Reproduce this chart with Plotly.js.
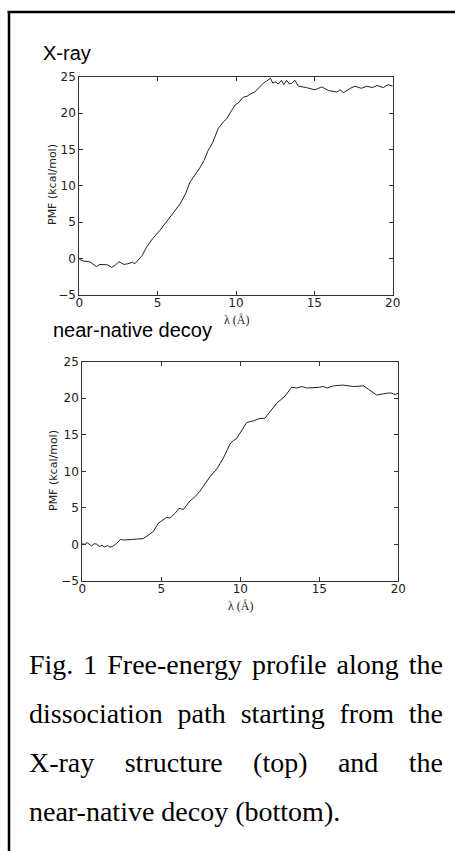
<!DOCTYPE html>
<html>
<head>
<meta charset="utf-8">
<script src="https://cdn.plot.ly/plotly-3.0.1.min.js"></script>
<style>
  html, body { margin: 0; padding: 0; background: #fff; }
  #wrap { position: relative; width: 455px; height: 851px; overflow: hidden; }
  #chart { position: absolute; left: 0; top: 0; width: 455px; height: 851px; }
  .cap { position: absolute; left: 29px; width: 414px; font-family: "Liberation Serif", "Times New Roman", serif;
         font-size: 28px; line-height: 30px; color: #000; white-space: nowrap; }
  .just { text-align: justify; text-align-last: justify; white-space: normal; }
</style>
</head>
<body>
<div id="wrap">
  <div id="chart"></div>
  <div class="cap just" style="top:650px">Fig. 1 Free-energy profile along the</div>
  <div class="cap just" style="top:699px">dissociation path starting from the</div>
  <div class="cap just" style="top:748px">X-ray structure (top) and the</div>
  <div class="cap" style="top:797px">near-native decoy (bottom).</div>
</div>
<script>
// ---- Data ----
const xrayLambda = [0, 0.3, 0.68, 0.9, 1.1, 1.3, 1.5, 1.8, 2.07, 2.3, 2.53, 2.7, 2.85, 3.1, 3.4, 3.55, 3.83, 4.0, 4.3, 4.7, 5.15, 5.6, 6.0, 6.43, 6.8, 7.06, 7.4, 7.7, 7.96, 8.23, 8.5, 8.87, 9.19, 9.4, 9.62, 9.94, 10.15, 10.47, 10.7, 10.9, 11.2, 11.42, 11.74, 11.95, 12.2, 12.35, 12.5, 12.7, 12.9, 13.05, 13.23, 13.4, 13.56, 13.76, 13.98, 14.5, 15.04, 15.47, 15.9, 16.43, 16.64, 16.86, 17.29, 17.6, 18.0, 18.35, 18.7, 19.0, 19.4, 19.7, 20];
const xrayPMF = [-0.1, -0.35, -0.45, -0.8, -1.1, -0.8, -0.8, -0.85, -1.2, -0.9, -0.4, -0.6, -0.8, -0.7, -0.5, -0.7, -0.1, 0.4, 1.6, 2.8, 3.9, 5.1, 6.3, 7.5, 9.0, 10.5, 11.5, 12.5, 13.5, 14.9, 15.9, 17.9, 18.8, 19.2, 20.0, 21.1, 21.4, 22.2, 22.3, 22.6, 22.9, 23.4, 24.1, 24.4, 24.8, 24.1, 24.3, 24.0, 24.5, 23.9, 24.5, 24.0, 24.1, 24.5, 23.7, 23.5, 23.2, 23.6, 23.1, 22.9, 23.2, 22.8, 23.4, 23.7, 23.4, 23.7, 23.5, 23.8, 23.5, 23.9, 23.7];

const decoyLambda = [0, 0.15, 0.3, 0.45, 0.59, 0.75, 0.9, 1.1, 1.25, 1.4, 1.6, 1.75, 1.9, 2.15, 2.43, 2.6, 2.8, 3.0, 3.25, 3.5, 3.85, 4.2, 4.5, 4.81, 5.1, 5.34, 5.55, 5.87, 6.12, 6.4, 6.82, 7.12, 7.45, 7.77, 8.08, 8.5, 8.92, 9.35, 9.55, 9.77, 10.1, 10.4, 10.6, 10.82, 11.25, 11.56, 11.88, 12.3, 12.83, 13.25, 13.56, 13.9, 14.2, 14.7, 15.0, 15.25, 15.5, 15.9, 16.5, 17.16, 17.5, 17.8, 18.0, 18.31, 18.63, 19.05, 19.3, 19.6, 19.8, 20];
const decoyPMF = [0.15, 0.0, 0.25, 0.05, -0.2, 0.1, 0.05, -0.3, -0.1, -0.35, -0.15, -0.35, -0.3, 0.1, 0.7, 0.6, 0.6, 0.65, 0.7, 0.75, 0.8, 1.3, 1.8, 2.9, 3.3, 3.7, 3.6, 4.26, 4.94, 4.8, 5.97, 6.5, 7.3, 8.27, 9.27, 10.28, 11.78, 13.74, 14.2, 14.5, 15.6, 16.66, 16.8, 16.9, 17.25, 17.25, 18.16, 19.3, 20.3, 21.5, 21.4, 21.6, 21.4, 21.4, 21.5, 21.6, 21.4, 21.7, 21.8, 21.6, 21.6, 21.7, 21.4, 20.9, 20.44, 20.6, 20.7, 20.7, 20.5, 20.7];

const xTicks = [0, 5, 10, 15, 20];
const yTicks = [-5, 0, 5, 10, 15, 20, 25];
const panelTitles = ["X-ray", "near-native decoy"];
const xTitle = "λ (Å)";
const yTitle = "PMF (kcal/mol)";

// ---- Layout helpers ----
const W = 455, H = 851;
const px = v => v / W;
const py = v => 1 - v / H;

const tickFont = {family: "DejaVu Sans, sans-serif", size: 12, color: "#222"};
function xax(domain, anchor) {
  return {domain: domain, anchor: anchor, range: [0, 20], tickvals: xTicks, ticktext: xTicks.map(String),
    ticks: "inside", ticklen: 4, tickcolor: "#333", mirror: "ticks", showline: true, linecolor: "#333",
    linewidth: 1, showgrid: false, zeroline: false, tickfont: tickFont, fixedrange: true, ticklabelstandoff: -3};
}
function yax(domain, anchor) {
  return {domain: domain, anchor: anchor, range: [-5, 25], tickvals: yTicks,
    ticktext: yTicks.map(v => v < 0 ? "\u2212" + Math.abs(v) : String(v)),
    ticks: "inside", ticklen: 4, tickcolor: "#333", mirror: "ticks", showline: true, linecolor: "#333",
    linewidth: 1, showgrid: false, zeroline: false, tickfont: tickFont, fixedrange: true};
}

const traces = [
  {x: xrayLambda, y: xrayPMF, type: "scatter", mode: "lines", line: {color: "#222", width: 1}, xaxis: "x", yaxis: "y", hoverinfo: "skip"},
  {x: decoyLambda, y: decoyPMF, type: "scatter", mode: "lines", line: {color: "#222", width: 1}, xaxis: "x2", yaxis: "y2", hoverinfo: "skip"}
];

const titleFont = {family: "Liberation Sans, Arial, sans-serif", size: 20, color: "#000"};
const axTitleFont = {family: "DejaVu Sans, sans-serif", size: 11, color: "#222"};
const xTitleFont = {family: "Liberation Serif, Times New Roman, serif", size: 12, color: "#222"};

const layout = {
  width: W, height: H,
  margin: {l: 0, r: 0, t: 0, b: 0},
  paper_bgcolor: "#fff", plot_bgcolor: "#fff",
  showlegend: false,
  xaxis: xax([px(79.3), px(392.7)], "y"),
  yaxis: yax([py(295), py(76.7)], "x"),
  xaxis2: xax([px(82.3), px(398.3)], "y2"),
  yaxis2: yax([py(581), py(361.7)], "x2"),
  annotations: [
    {text: panelTitles[0], xref: "paper", yref: "paper", x: px(41), y: py(53), xanchor: "left", yanchor: "middle", showarrow: false, font: titleFont},
    {text: panelTitles[1], xref: "paper", yref: "paper", x: px(51), y: py(330), xanchor: "left", yanchor: "middle", showarrow: false, font: titleFont},
    {text: yTitle, xref: "paper", yref: "paper", x: px(53), y: py(185), xanchor: "center", yanchor: "middle", textangle: -90, showarrow: false, font: axTitleFont},
    {text: yTitle, xref: "paper", yref: "paper", x: px(53), y: py(471), xanchor: "center", yanchor: "middle", textangle: -90, showarrow: false, font: axTitleFont},
    {text: xTitle, xref: "paper", yref: "paper", x: px(236.5), y: py(319.5), xanchor: "center", yanchor: "middle", showarrow: false, font: xTitleFont, borderpad: 0},
    {text: xTitle, xref: "paper", yref: "paper", x: px(240), y: py(605.5), xanchor: "center", yanchor: "middle", showarrow: false, font: xTitleFont, borderpad: 0}
  ],
  shapes: [
    {type: "line", xref: "paper", yref: "paper", x0: px(7.5), x1: 1, y0: py(12), y1: py(12), line: {color: "#000", width: 2.5}},
    {type: "line", xref: "paper", yref: "paper", x0: px(9), x1: px(9), y0: py(12), y1: 0, line: {color: "#000", width: 2.5}}
  ]
};

Plotly.newPlot("chart", traces, layout, {staticPlot: true, displayModeBar: false});
</script>
</body>
</html>
